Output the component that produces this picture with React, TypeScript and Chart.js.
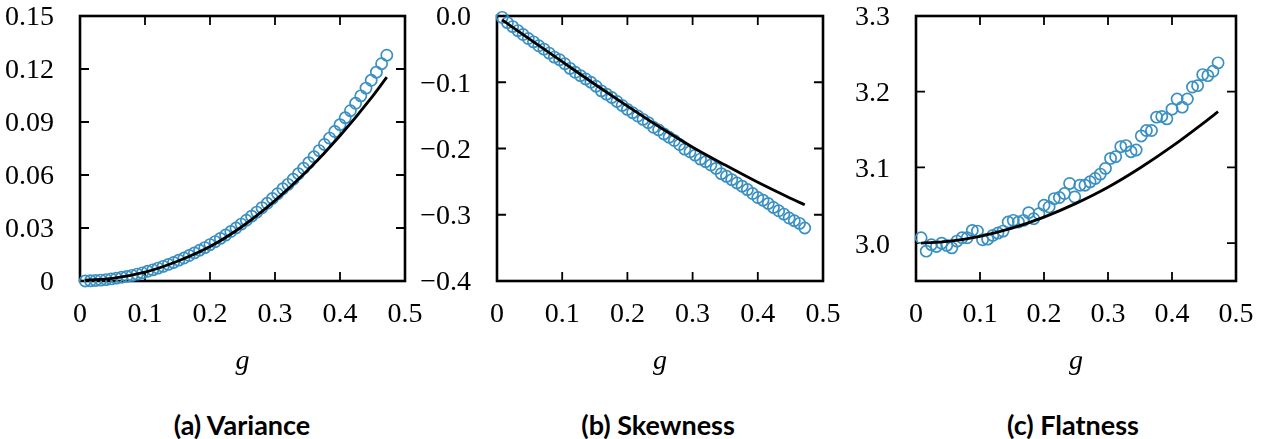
import React, { useEffect, useRef } from 'react';
import { Chart, registerables } from 'chart.js';

Chart.register(...registerables);

// ---------- data ----------
const gValues = [
  0.008, 0.016, 0.024, 0.032, 0.04, 0.048, 0.056, 0.064, 0.072, 0.08,
  0.088, 0.096, 0.104, 0.112, 0.12, 0.128, 0.136, 0.144, 0.152, 0.16,
  0.168, 0.176, 0.184, 0.192, 0.2, 0.208, 0.216, 0.224, 0.232, 0.24,
  0.248, 0.256, 0.264, 0.272, 0.28, 0.288, 0.296, 0.304, 0.312, 0.32,
  0.328, 0.336, 0.344, 0.352, 0.36, 0.368, 0.376, 0.384, 0.392, 0.4,
  0.408, 0.416, 0.424, 0.432, 0.44, 0.448, 0.456, 0.464, 0.472,
];

const varianceSim = [
  0.0, 0.0001, 0.0003, 0.0005, 0.0008, 0.0012, 0.0016, 0.0021, 0.0026, 0.0032,
  0.0039, 0.0046, 0.0055, 0.0063, 0.0073, 0.0083, 0.0094, 0.0105, 0.0118, 0.013,
  0.0144, 0.0159, 0.0174, 0.0189, 0.0206, 0.0223, 0.0241, 0.026, 0.028, 0.03,
  0.0322, 0.0344, 0.0367, 0.039, 0.0415, 0.044, 0.0467, 0.0494, 0.0522, 0.0547,
  0.0576, 0.0607, 0.0638, 0.067, 0.0703, 0.0738, 0.0773, 0.0809, 0.0846, 0.0885,
  0.0924, 0.0964, 0.1006, 0.1048, 0.1092, 0.1136, 0.1182, 0.123, 0.1278,
];

const skewnessSim = [
  -0.002, -0.01, -0.016, -0.022, -0.028, -0.034, -0.039, -0.045, -0.05, -0.056,
  -0.062, -0.066, -0.072, -0.079, -0.085, -0.09, -0.095, -0.1, -0.106, -0.113,
  -0.118, -0.123, -0.129, -0.135, -0.141, -0.146, -0.151, -0.156, -0.161, -0.168,
  -0.172, -0.178, -0.183, -0.188, -0.194, -0.201, -0.205, -0.21, -0.216, -0.22,
  -0.225, -0.23, -0.238, -0.242, -0.247, -0.252, -0.257, -0.262, -0.268, -0.274,
  -0.278, -0.283, -0.289, -0.294, -0.299, -0.305, -0.309, -0.313, -0.32,
];

const flatnessSim = [
  3.0071, 2.9894, 2.998, 2.9956, 3.0, 2.997, 2.9938, 3.0027, 3.0071, 3.0071,
  3.0168, 3.0159, 3.0044, 3.0053, 3.0102, 3.0133, 3.0159, 3.0279, 3.0301, 3.0279,
  3.0301, 3.0403, 3.0323, 3.0389, 3.05, 3.0478, 3.0588, 3.0602, 3.0655, 3.0788,
  3.0611, 3.0765, 3.0765, 3.081, 3.0854, 3.0912, 3.0987, 3.1119, 3.1142, 3.1274,
  3.1288, 3.1208, 3.123, 3.1416, 3.1487, 3.1487, 3.1664, 3.1673, 3.1642, 3.177,
  3.1903, 3.1796, 3.1903, 3.2062, 3.208, 3.2226, 3.2212, 3.227, 3.2381,
];

const gTheory = [0.008, 0.05, 0.1, 0.15, 0.2, 0.25, 0.3, 0.35, 0.4, 0.45, 0.472];
const varianceTheory = [0.0005, 0.0015, 0.005, 0.0112, 0.0195, 0.031, 0.0455, 0.0625, 0.0822, 0.1045, 0.1154];
const skewnessTheory = [-0.006, -0.035, -0.069, -0.103, -0.136, -0.168, -0.198, -0.225, -0.251, -0.275, -0.285];
const flatnessTheory = [3.0, 3.0023, 3.009, 3.0198, 3.0344, 3.0525, 3.0738, 3.0992, 3.1277, 3.1592, 3.1737];

const xTicks = [0, 0.1, 0.2, 0.3, 0.4, 0.5];
const xTickLabels = ['0', '0.1', '0.2', '0.3', '0.4', '0.5'];
const varianceTicks = [0, 0.03, 0.06, 0.09, 0.12, 0.15];
const varianceTickLabels = ['0', '0.03', '0.06', '0.09', '0.12', '0.15'];
const skewnessTicks = [0, -0.1, -0.2, -0.3, -0.4];
const skewnessTickLabels = ['0.0', '\u22120.1', '\u22120.2', '\u22120.3', '\u22120.4'];
const flatnessTicks = [3.0, 3.1, 3.2, 3.3];
const flatnessTickLabels = ['3.0', '3.1', '3.2', '3.3'];

const panelTitles = ['(a) Variance', '(b) Skewness', '(c) Flatness'];

// ---------- styling ----------
const BLUE = '#3a90c2';
const SERIF = '"Liberation Serif", "DejaVu Serif", serif';
const CANVAS_H = 382;
const PLOT_TOP = 16;
const PLOT_BOTTOM = 281;
const TICK_FONT = 28;

const framePlugin = {
  id: 'frame',
  beforeDatasetsDraw(chart: any) {
    const { ctx, chartArea: a, scales } = chart;
    const L = 9;
    ctx.save();
    ctx.strokeStyle = '#000';
    ctx.lineWidth = 1.8;
    ctx.beginPath();
    for (const t of scales.x.ticks) {
      const px = scales.x.getPixelForValue(t.value);
      ctx.moveTo(px, a.bottom);
      ctx.lineTo(px, a.bottom - L);
      ctx.moveTo(px, a.top);
      ctx.lineTo(px, a.top + L);
    }
    for (const t of scales.y.ticks) {
      const py = scales.y.getPixelForValue(t.value);
      ctx.moveTo(a.left, py);
      ctx.lineTo(a.left + L, py);
      ctx.moveTo(a.right, py);
      ctx.lineTo(a.right - L, py);
    }
    ctx.stroke();
    ctx.lineWidth = 2.6;
    ctx.strokeRect(a.left, a.top, a.right - a.left, a.bottom - a.top);
    ctx.restore();
  },
};

type PanelProps = {
  width: number;
  sim: number[];
  theory: number[];
  yMin: number;
  yMax: number;
  yTicks: number[];
  yLabels: string[];
  axisWidth: number;
  padRight: number;
};

function PanelCanvas(p: PanelProps) {
  const ref = useRef<HTMLCanvasElement | null>(null);
  useEffect(() => {
    const cv = ref.current;
    if (!cv) return;
    const chart = new Chart(cv, {
      type: 'scatter',
      data: {
        datasets: [
          {
            type: 'line',
            data: gTheory.map((g, i) => ({ x: g, y: p.theory[i] })),
            borderColor: '#000',
            borderWidth: 2.8,
            pointRadius: 0,
            cubicInterpolationMode: 'monotone',
            fill: false,
            order: 0,
            clip: false,
          } as any,
          {
            type: 'scatter',
            data: gValues.map((g, i) => ({ x: g, y: p.sim[i] })),
            borderColor: BLUE,
            backgroundColor: 'rgba(0,0,0,0)',
            pointRadius: 5.6,
            pointBorderWidth: 1.7,
            order: 1,
            clip: false,
          } as any,
        ],
      },
      options: {
        animation: false,
        responsive: false,
        maintainAspectRatio: false,
        devicePixelRatio: 1,
        layout: { padding: { top: PLOT_TOP, right: p.padRight, left: 0, bottom: 0 } },
        plugins: { legend: { display: false }, tooltip: { enabled: false }, title: { display: false } },
        scales: {
          x: {
            type: 'linear',
            min: 0,
            max: 0.5,
            grid: { display: false },
            border: { display: false },
            afterBuildTicks: (s: any) => {
              s.ticks = xTicks.map((v) => ({ value: v }));
            },
            afterFit: (s: any) => {
              s.height = CANVAS_H - PLOT_BOTTOM;
              s.paddingLeft = 0;
              s.paddingRight = 0;
            },
            ticks: {
              autoSkip: false,
              maxRotation: 0,
              padding: 9,
              color: '#000',
              font: { family: SERIF, size: TICK_FONT },
              callback: (_v: any, i: number) => xTickLabels[i],
            },
            title: {
              display: true,
              text: 'g',
              color: '#000',
              font: { family: SERIF, size: 28, style: 'italic' },
              padding: { top: 4, bottom: 4 },
            },
          },
          y: {
            type: 'linear',
            min: p.yMin,
            max: p.yMax,
            grid: { display: false },
            border: { display: false },
            afterBuildTicks: (s: any) => {
              s.ticks = p.yTicks.map((v) => ({ value: v }));
            },
            afterFit: (s: any) => {
              s.width = p.axisWidth;
              s.paddingTop = 0;
              s.paddingBottom = 0;
            },
            ticks: {
              autoSkip: false,
              padding: 18,
              labelOffset: 2,
              color: '#000',
              font: { family: SERIF, size: TICK_FONT },
              callback: (_v: any, i: number) => p.yLabels[i],
            },
          },
        },
      } as any,
      plugins: [framePlugin],
    });
    return () => chart.destroy();
  }, []);
  return (
    <canvas
      ref={ref}
      width={p.width}
      height={CANVAS_H}
      style={{ display: 'block', width: p.width, height: CANVAS_H }}
    />
  );
}

const panels = [
  { left: 0, width: 435, axisWidth: 80, padRight: 30, sim: varianceSim, theory: varianceTheory, yMin: 0, yMax: 0.15, yTicks: varianceTicks, yLabels: varianceTickLabels, center: 242 },
  { left: 420, width: 435, axisWidth: 77, padRight: 32, sim: skewnessSim, theory: skewnessTheory, yMin: -0.4, yMax: 0, yTicks: skewnessTicks, yLabels: skewnessTickLabels, center: 658 },
  { left: 840, width: 421, axisWidth: 76, padRight: 25, sim: flatnessSim, theory: flatnessTheory, yMin: 2.95, yMax: 3.3, yTicks: flatnessTicks, yLabels: flatnessTickLabels, center: 1073 },
];

export default function App() {
  return (
    <div style={{ position: 'absolute', left: 0, top: 0, width: 1261, height: 439, background: '#fff', overflow: 'hidden' }}>
      {panels.map((pn, i) => (
        <div key={i} style={{ position: 'absolute', left: pn.left, top: 0, width: pn.width, height: CANVAS_H }}>
          <PanelCanvas {...pn} />
        </div>
      ))}
      {panels.map((pn, i) => (
        <div
          key={'t' + i}
          style={{
            position: 'absolute',
            left: pn.center - 150,
            width: 300,
            top: 408,
            textAlign: 'center',
            fontFamily: 'Lato, "Open Sans", sans-serif',
            fontWeight: 700,
            fontSize: 27,
            lineHeight: '34px',
            color: '#000',
          }}
        >
          {panelTitles[i]}
        </div>
      ))}
    </div>
  );
}
